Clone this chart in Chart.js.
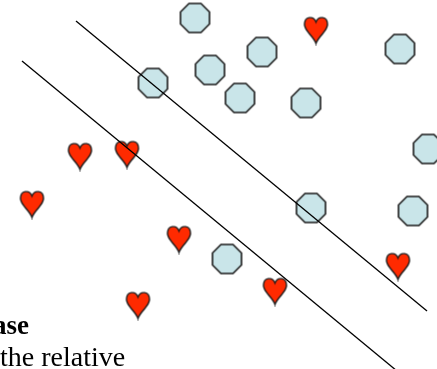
<!DOCTYPE html>
<html>
<head>
<meta charset="utf-8">
<script src="https://cdn.jsdelivr.net/npm/chart.js@4"></script>
<style>
  html, body { margin: 0; padding: 0; background: #fff; overflow: hidden; }
  #wrap { position: relative; width: 437px; height: 369px; }
  .txt { position: absolute; font-family: "Liberation Serif", serif; color: #000; white-space: nowrap; line-height: 1; }
  #t1 { font-weight: bold; font-size: 27px; left: -7px; top: 312px; }
  #t2 { font-size: 28px; left: 0px; top: 343px; }
</style>
</head>
<body>
<div id="wrap">
  <canvas id="svmChart" width="437" height="369"></canvas>
  <div class="txt" id="t1">ase</div>
  <div class="txt" id="t2">the relative</div>
</div>
<script>
// class A (octagons)
const octX = [195, 262, 210, 153, 240, 306, 400, 428, 413, 311, 227];
const octY = [18, 52, 70, 83, 98, 103, 49, 149, 211, 208, 259];
// class B (hearts)
const heartX = [316, 80, 127, 32, 179, 275, 398, 138];
const heartY = [30, 156, 154, 204, 239, 291, 266, 305];
// margin lines
const upperLineX = [76, 427];
const upperLineY = [21, 311];
const lowerLineX = [22, 397];
const lowerLineY = [61, 371];

const toPoints = (xs, ys) => xs.map((x, i) => ({ x: x, y: ys[i] }));

function makeOctagon(size) {
    const c = document.createElement('canvas');
    c.width = size + 4; c.height = size + 4;
    const g = c.getContext('2d');
    const cx = c.width / 2, cy = c.height / 2, r = size / 2;
    const a = r * Math.tan(Math.PI / 8);
    g.beginPath();
    g.moveTo(cx - a, cy - r);
    g.lineTo(cx + a, cy - r);
    g.lineTo(cx + r, cy - a);
    g.lineTo(cx + r, cy + a);
    g.lineTo(cx + a, cy + r);
    g.lineTo(cx - a, cy + r);
    g.lineTo(cx - r, cy + a);
    g.lineTo(cx - r, cy - a);
    g.closePath();
    g.fillStyle = '#c9e5e9';
    g.fill();
    g.lineWidth = 1.6;
    g.strokeStyle = '#1a1a1a';
    g.stroke();
    return c;
}

function makeHeart(w, h) {
    const c = document.createElement('canvas');
    c.width = w + 4; c.height = h + 4;
    const g = c.getContext('2d');
    const x0 = 2, y0 = 2;
    g.beginPath();
    g.moveTo(x0 + w / 2, y0 + h * 0.2);
    g.bezierCurveTo(x0 + w * 0.6, y0 - h * 0.03, x0 + w, y0 - h * 0.02, x0 + w, y0 + h * 0.3);
    g.bezierCurveTo(x0 + w, y0 + h * 0.55, x0 + w * 0.6, y0 + h * 0.72, x0 + w / 2, y0 + h);
    g.bezierCurveTo(x0 + w * 0.4, y0 + h * 0.72, x0, y0 + h * 0.55, x0, y0 + h * 0.3);
    g.bezierCurveTo(x0, y0 - h * 0.02, x0 + w * 0.4, y0 - h * 0.03, x0 + w / 2, y0 + h * 0.2);
    g.closePath();
    g.fillStyle = '#ff2a00';
    g.fill();
    g.lineWidth = 1.4;
    g.strokeStyle = '#1a1a1a';
    g.stroke();
    return c;
}

const octImg = makeOctagon(29);
const heartImg = makeHeart(23, 27);

new Chart(document.getElementById('svmChart'), {
    type: 'scatter',
    data: {
        datasets: [
            {
                type: 'line',
                data: toPoints(upperLineX, upperLineY),
                borderColor: '#000',
                borderWidth: 1.3,
                pointRadius: 0,
                fill: false
            },
            {
                type: 'line',
                data: toPoints(lowerLineX, lowerLineY),
                borderColor: '#000',
                borderWidth: 1.3,
                pointRadius: 0,
                fill: false
            },
            {
                data: toPoints(octX, octY),
                pointStyle: octImg,
                clip: false
            },
            {
                data: toPoints(heartX, heartY),
                pointStyle: heartImg,
                clip: false
            }
        ]
    },
    options: {
        responsive: false,
        animation: false,
        layout: { padding: 0, autoPadding: false },
        scales: {
            x: { type: 'linear', min: 0, max: 437, display: false },
            y: { type: 'linear', min: 0, max: 369, reverse: true, display: false }
        },
        plugins: {
            legend: { display: false },
            tooltip: { enabled: false }
        }
    }
});
</script>
</body>
</html>
